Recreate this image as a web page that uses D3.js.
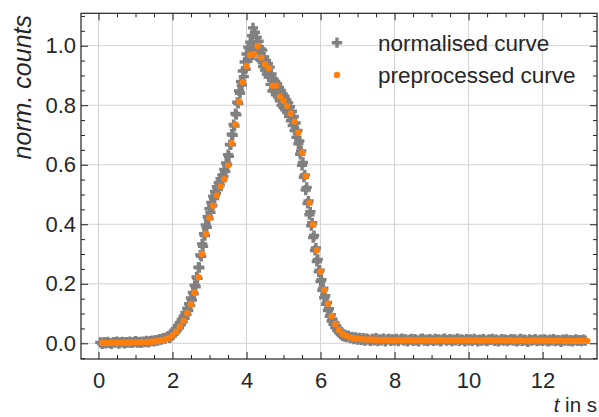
<!DOCTYPE html>
<html>
<head>
<meta charset="utf-8">
<script src="https://cdn.jsdelivr.net/npm/d3@7"></script>
<style>
  body { margin: 0; background: #fff; }
  .chart text { font-family: "Liberation Sans", Arial, sans-serif; fill: #262626; }
</style>
</head>
<body>
<div class="chart"></div>
<script>
// preprocessed curve, sampled every 0.1 s starting at 0.1 s
const prepStart = 0.1, prepStep = 0.1;
const prepValues = [
  0.001,0.001,0.001,0.002,0.002,0.002,0.002,0.002,0.003,
  0.003,0.003,0.004,0.004,0.005,0.006,0.008,0.010,0.013,0.018,
  0.026,0.039,0.056,0.076,0.101,0.131,0.170,0.222,0.300,0.368,
  0.422,0.462,0.497,0.527,0.551,0.598,0.672,0.735,0.812,0.877,
  0.932,0.969,0.972,0.999,0.960,0.938,0.924,0.866,0.866,0.829,
  0.815,0.797,0.772,0.745,0.708,0.640,0.562,0.472,0.399,0.313,
  0.241,0.179,0.133,0.091,0.065,0.045,0.031,0.025,0.020,0.017,
  0.015,0.014,0.013,0.013,0.012,0.012,0.011,0.011,0.011,0.010,
  0.010,0.011,0.010,0.010,0.011,0.010,0.010,0.010,0.011,0.010,
  0.010,0.010,0.011,0.010,0.010,0.010,0.010,0.011,0.010,0.010,
  0.010,0.010,0.010,0.009,0.010,0.010,0.010,0.009,0.010,0.010,
  0.009,0.010,0.009,0.009,0.010,0.009,0.009,0.009,0.010,0.009,
  0.009,0.009,0.009,0.008,0.009,0.009,0.008,0.009,0.008,0.008,
  0.008,0.008,0.008
];

// normalised curve, three recording blocks with their own sampling step
const normHeadStart = 0.05, normHeadStep = 0.05;
const normHead = [
  0.003,-0.002,0.004,0.000,0.005,0.001,-0.002,0.004,0.002,0.006,
  -0.001,0.003,0.005,0.000,0.004,0.002,0.006,0.001,0.004,0.007,
  0.002,0.005,0.001,0.006,0.004,0.008,0.003,0.007,0.009,0.006,
  0.011,0.009,0.014,0.012,0.017,0.016,0.022
];
const normPeakStart = 1.9, normPeakStep = 0.025;
const normPeak = [
  0.024,0.018,0.029,0.025,0.036,0.030,0.043,0.037,0.050,0.045,
  0.060,0.052,0.069,0.063,0.080,0.072,0.091,0.084,0.104,0.097,
  0.118,0.110,0.133,0.127,0.152,0.145,0.171,0.166,0.195,0.190,
  0.223,0.218,0.256,0.254,0.297,0.292,0.334,0.326,0.368,0.362,
  0.398,0.390,0.426,0.418,0.452,0.440,0.473,0.462,0.494,0.486,
  0.510,0.503,0.526,0.517,0.540,0.532,0.553,0.546,0.566,0.560,
  0.584,0.577,0.606,0.600,0.634,0.628,0.668,0.667,0.703,0.699,
  0.735,0.730,0.772,0.768,0.810,0.806,0.848,0.840,0.880,0.868,
  0.915,0.896,0.945,0.921,0.972,0.948,0.995,0.958,1.012,0.985,
  1.034,1.060,1.002,1.045,0.978,1.028,0.992,1.015,0.955,0.990,
  0.950,0.985,0.930,0.962,0.918,0.950,0.905,0.940,0.895,0.928,
  0.870,0.905,0.848,0.888,0.852,0.880,0.835,0.872,0.828,0.860,
  0.815,0.850,0.800,0.838,0.792,0.830,0.785,0.818,0.775,0.808,
  0.762,0.795,0.748,0.780,0.732,0.762,0.715,0.740,0.692,0.715,
  0.670,0.680,0.635,0.646,0.598,0.608,0.558,0.566,0.515,0.524,
  0.470,0.478,0.432,0.442,0.395,0.405,0.355,0.362,0.312,0.320,
  0.275,0.282,0.240,0.246,0.208,0.214,0.178,0.185,0.153,0.160,
  0.131,0.137,0.110,0.116,0.091,0.096,0.075,0.081,0.064,0.069,
  0.053,0.058,0.044,0.049,0.036,0.041,0.029,0.034,0.025,0.030,
  0.022,0.027
];
const normTailStart = 6.7, normTailStep = 0.05;
const normTail = [
  0.021,0.026,0.017,0.022,0.014,0.020,0.012,0.018,0.011,0.017,
  0.009,0.016,0.012,0.008,0.015,0.010,0.017,0.007,0.013,0.010,
  0.016,0.006,0.012,0.015,0.008,0.013,
  0.010,0.015,0.007,0.012,0.016,0.009,0.013,0.006,0.011,0.015,
  0.008,0.014,0.010,0.006,0.013,0.016,0.009,0.012,0.007,0.014,
  0.011,0.008,0.015,0.010,0.013,0.006,0.012,0.016,0.009,0.011,
  0.014,0.007,0.012,0.010,0.016,0.008,0.013,0.011,0.006,0.014,
  0.010,0.013,0.008,0.015,0.011,0.006,0.012,0.009,0.014,0.010,
  0.007,0.013,0.011,0.015,0.008,0.012,0.006,0.010,0.014,0.009,
  0.012,0.007,0.011,0.014,0.009,0.013,0.006,0.010,0.015,0.008,
  0.012,0.010,0.005,0.013,0.009,0.011,0.014,0.007,0.010,0.012,
  0.008,0.013,0.010,0.006,0.012,0.009,0.014,0.007,0.011,0.010,
  0.005,0.012,0.009,0.013,0.008,0.011,0.006,0.010,0.013,0.008,
  0.011,0.007,0.012,0.009
];

const xTicks = [0, 2, 4, 6, 8, 10, 12];
const xTickLabels = ["0", "2", "4", "6", "8", "10", "12"];
const yTicks = [0, 0.2, 0.4, 0.6, 0.8, 1.0];
const yTickLabels = ["0.0", "0.2", "0.4", "0.6", "0.8", "1.0"];
const legendLabels = ["normalised curve", "preprocessed curve"];

const width = 599,
      height = 417,
      plotLeft = 81, plotRight = 597, plotTop = 13.3, plotBottom = 359;
const grey = "#808080", orange = "#ff7f0e";

const toPoints = (start, step, vals) =>
  vals.map((v, i) => [+(start + i * step).toFixed(3), v]);

const normData = toPoints(normHeadStart, normHeadStep, normHead)
  .concat(toPoints(normPeakStart, normPeakStep, normPeak))
  .concat(toPoints(normTailStart, normTailStep, normTail));
const prepData = toPoints(prepStart, prepStep, prepValues);

const x = d3.scaleLinear().domain([-0.473, 13.47]).range([plotLeft, plotRight]);
const y = d3.scaleLinear().domain([-0.0528, 1.1089]).range([plotBottom, plotTop]);

const svg = d3.select(".chart")
  .append("svg")
  .attr("width", width)
  .attr("height", height);

svg.append("clipPath").attr("id", "plot")
  .append("rect")
  .attr("x", plotLeft).attr("y", plotTop)
  .attr("width", plotRight - plotLeft).attr("height", plotBottom - plotTop);

// grid
svg.append("g")
  .selectAll("line")
  .data(xTicks)
  .join("line")
  .attr("x1", d => x(d)).attr("x2", d => x(d))
  .attr("y1", plotTop).attr("y2", plotBottom)
  .attr("stroke", "#d2d2d2").attr("stroke-width", 1);
svg.append("g")
  .selectAll("line")
  .data(yTicks)
  .join("line")
  .attr("y1", d => y(d)).attr("y2", d => y(d))
  .attr("x1", plotLeft).attr("x2", plotRight)
  .attr("stroke", "#d2d2d2").attr("stroke-width", 1);

// data
const cross = d3.symbol().type(d3.symbolCross).size(58);
const marks = svg.append("g").attr("clip-path", "url(#plot)");
marks.selectAll("path.norm")
  .data(normData)
  .join("path")
  .attr("class", "norm")
  .attr("d", cross)
  .attr("transform", d => `translate(${x(d[0])},${y(d[1])})`)
  .attr("fill", grey);
marks.selectAll("circle.prep")
  .data(prepData)
  .join("circle")
  .attr("class", "prep")
  .attr("cx", d => x(d[0]))
  .attr("cy", d => y(d[1]))
  .attr("r", 3.2)
  .attr("fill", orange);

// axes, ticks pointing inwards on all four sides
const xMinor = [0.5, 1, 1.5, 2.5, 3, 3.5, 4.5, 5, 5.5, 6.5, 7, 7.5, 8.5, 9, 9.5,
                10.5, 11, 11.5, 12.5, 13];
const yMinor = [-0.05, 0.05, 0.1, 0.15, 0.25, 0.3, 0.35, 0.45, 0.5, 0.55,
                0.65, 0.7, 0.75, 0.85, 0.9, 0.95, 1.05, 1.1];

function styleAxis(g) {
  g.select(".domain").remove();
  g.selectAll(".tick line").attr("stroke", "#222").attr("stroke-width", 1);
  g.selectAll("text").style("font-size", "22px").attr("fill", "#262626");
}

svg.append("g")
  .attr("transform", `translate(0,${plotBottom})`)
  .call(d3.axisBottom(x).tickValues(xTicks).tickSize(-7).tickPadding(13.5)
    .tickFormat((d, i) => xTickLabels[i]))
  .call(styleAxis);
svg.append("g")
  .attr("transform", `translate(0,${plotBottom})`)
  .call(d3.axisBottom(x).tickValues(xMinor).tickSize(-4).tickFormat(""))
  .call(styleAxis);
svg.append("g")
  .attr("transform", `translate(0,${plotTop})`)
  .call(d3.axisTop(x).tickValues(xTicks).tickSize(-7).tickFormat(""))
  .call(styleAxis);
svg.append("g")
  .attr("transform", `translate(0,${plotTop})`)
  .call(d3.axisTop(x).tickValues(xMinor).tickSize(-4).tickFormat(""))
  .call(styleAxis);

svg.append("g")
  .attr("transform", `translate(${plotLeft},0)`)
  .call(d3.axisLeft(y).tickValues(yTicks).tickSize(-7).tickPadding(5)
    .tickFormat((d, i) => yTickLabels[i]))
  .call(styleAxis);
svg.append("g")
  .attr("transform", `translate(${plotLeft},0)`)
  .call(d3.axisLeft(y).tickValues(yMinor).tickSize(-4).tickFormat(""))
  .call(styleAxis);
svg.append("g")
  .attr("transform", `translate(${plotRight},0)`)
  .call(d3.axisRight(y).tickValues(yTicks).tickSize(-7).tickFormat(""))
  .call(styleAxis);
svg.append("g")
  .attr("transform", `translate(${plotRight},0)`)
  .call(d3.axisRight(y).tickValues(yMinor).tickSize(-4).tickFormat(""))
  .call(styleAxis);

// frame
svg.append("rect")
  .attr("x", plotLeft).attr("y", plotTop)
  .attr("width", plotRight - plotLeft).attr("height", plotBottom - plotTop)
  .attr("fill", "none").attr("stroke", "#222").attr("stroke-width", 1.2);

// axis labels
svg.append("text")
  .attr("transform", `translate(31,15) rotate(-90)`)
  .attr("text-anchor", "end")
  .style("font-size", "25px")
  .style("font-style", "italic")
  .text("norm. counts");

const xl = svg.append("text")
  .attr("x", 597).attr("y", 412)
  .attr("text-anchor", "end")
  .style("font-size", "20.5px");
xl.append("tspan").style("font-style", "italic").text("t");
xl.append("tspan").text(" in s");

// legend
const legend = svg.append("g");
legend.append("path")
  .attr("d", cross)
  .attr("transform", "translate(337,42.7)")
  .attr("fill", grey);
legend.append("circle")
  .attr("cx", 337).attr("cy", 75)
  .attr("r", 3.2)
  .attr("fill", orange);
legend.selectAll("text")
  .data(legendLabels)
  .join("text")
  .attr("x", 378)
  .attr("y", (d, i) => 50.7 + i * 32.5)
  .style("font-size", "22.5px")
  .text(d => d);
</script>
</body>
</html>
